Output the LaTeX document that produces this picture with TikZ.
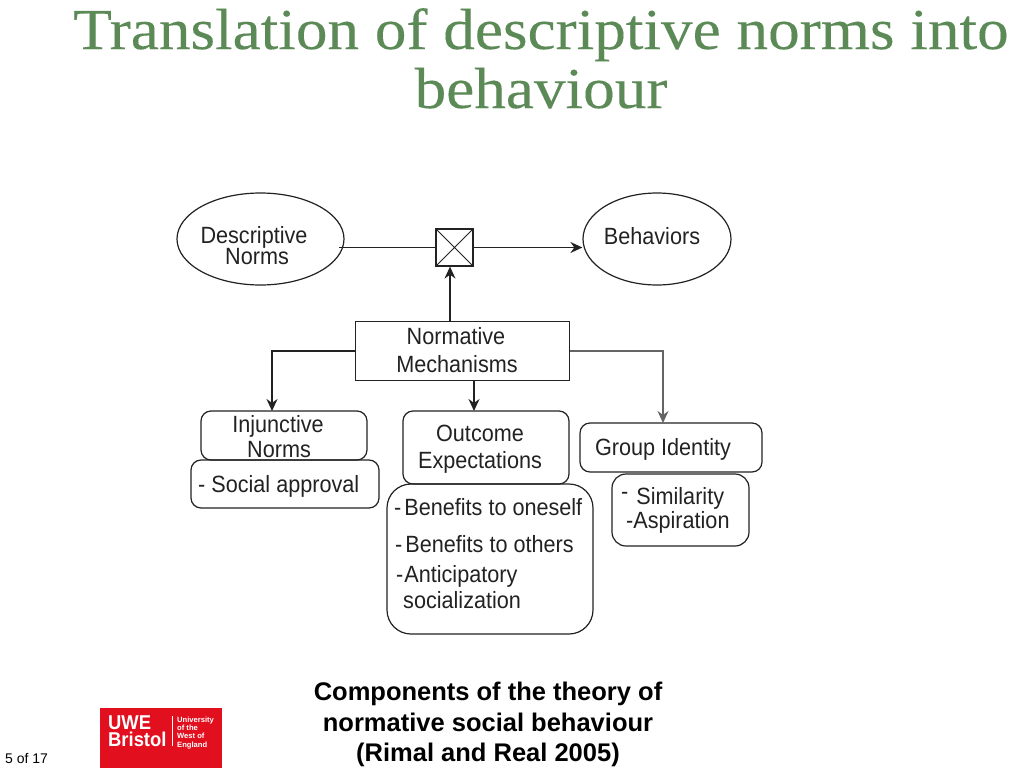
\documentclass[tikz,border=0pt]{standalone}
\usepackage{fontspec}
\setmainfont{Liberation Sans}
\newfontfamily\titlefont[FakeStretch=1.09,FakeBold=0.15]{Liberation Serif}
\newfontfamily\labfont[FakeStretch=0.92]{Liberation Sans}
\newfontfamily\logofont[FakeStretch=0.92]{Liberation Sans}
\definecolor{titlegreen}{HTML}{5B8A57}
\definecolor{uwered}{HTML}{E2101F}
\definecolor{inkc}{HTML}{222222}
\newcommand{\fsz}[1]{\fontsize{#1}{#1}\selectfont}
\usetikzlibrary{arrows.meta,shapes.geometric,shapes.misc}
\tikzset{
  x=1pt,y=-1pt,
  outl/.style={draw=inkc,line width=1.2pt},
  roundb/.style={outl,rounded corners=10pt},
  lab/.style={inner sep=0pt,text=inkc,font=\labfont\fsz{23.5},anchor=base},
  labl/.style={lab,anchor=base west},
  conn/.style={draw=inkc,line width=1.4pt,-{Stealth[length=12pt,width=11pt]}},
  plain/.style={draw=inkc,line width=1.4pt},
  ttl/.style={inner sep=0pt,text=titlegreen,font=\titlefont\fsz{58},anchor=base},
  captext/.style={inner sep=0pt,text=black,font=\bfseries\fsz{25.5},anchor=base},
  logot/.style={inner sep=0pt,text=white,anchor=base west,font=\logofont\bfseries\fsz{20}},
  logos/.style={inner sep=0pt,text=white,anchor=base west,font=\bfseries\fsz{7.6}},
}
\begin{document}
\begin{tikzpicture}
\useasboundingbox (0,0) rectangle (1024,768);
\fill[white] (0,0) rectangle (1024,768);
% title
\node[ttl] (t1) at (541,49) {Translation of descriptive norms into};
\node[ttl] (t2) at (541,108) {behaviour};
% ellipses
\node[ellipse,outl,minimum width=167pt,minimum height=92pt,inner sep=0pt] (desc) at (260.5,239) {};
\node[ellipse,outl,minimum width=148pt,minimum height=92pt,inner sep=0pt] (beh) at (657,239) {};
\node[lab] (desct1) at (254,243) {Descriptive};
\node[lab] (desct2) at (257,264) {Norms};
\node[lab] (behT) at (652,244) {Behaviors};
% cross box
\node[rectangle,cross out,draw=inkc,line width=0.8pt,minimum size=37pt,inner sep=0pt] (crossx) at (454.5,247.5) {};
\node[rectangle,draw=inkc,line width=1.2pt,minimum size=37pt,inner sep=0pt] (cross) at (454.5,247.5) {};
% normative
\node[rectangle,outl,minimum width=214pt,minimum height=59pt,inner sep=0pt] (norm) at (462.5,351) {};
\node[lab] (normt1) at (456,344) {Normative};
\node[lab] (normt2) at (457,372) {Mechanisms};
% rounded boxes
\draw[roundb] (201,411) rectangle (367,460);
\coordinate (injtop) at (272,411);
\node[lab] (injt1) at (278,432) {Injunctive};
\node[lab] (injt2) at (279,457) {Norms};
\draw[roundb] (191,460) rectangle (379,508);
\node[labl] (soc) at (198,492) {-\hspace{6pt}Social approval};
\draw[roundb] (403,411) rectangle (569,484);
\coordinate (outtop) at (474,411);
\node[lab] (outt1) at (480,441) {Outcome};
\node[lab] (outt2) at (480,468) {Expectations};
\draw[outl,rounded corners=24pt] (387,484) rectangle (593,634);
\node[labl] (b1) at (394,515) {-\hspace{3pt}Benefits to oneself};
\node[labl] (b2) at (395,552) {-\hspace{3pt}Benefits to others};
\node[labl] (b3) at (396,582) {-\hspace{1pt}Anticipatory};
\node[labl] (b4) at (403,608) {socialization};
\draw[roundb] (580,423) rectangle (762,472);
\coordinate (grptop) at (663,423);
\node[lab] (grp) at (663,455) {Group Identity};
\draw[outl,rounded corners=14pt] (612,474) rectangle (749,546);
\node[labl] (s1) at (621,504) {\raisebox{5pt}{-}\hspace{8pt}Similarity};
\node[labl] (s2) at (626,528) {-Aspiration};
% connectors
\coordinate (descexit) at (339,247.5);
\draw[plain] (descexit) -- (cross.west);
\draw[conn] (cross.east) -- (beh.west |- cross.east);
\draw[conn] (norm.north -| 450,0) -- (cross.south -| 450,0);
\draw[conn] (norm.west |- 0,351) -| (injtop);
\draw[conn] (norm.south -| outtop) -- (outtop);
\draw[conn,draw=inkc!70] (norm.east |- 0,351) -| (grptop);
% caption
\node[captext] (c1) at (488,700) {Components of the theory of};
\node[captext] (c2) at (488,731) {normative social behaviour};
\node[captext] (c3) at (488,761) {(Rimal and Real 2005)};
% logo
\node[rectangle,fill=uwered,minimum width=122pt,minimum height=60pt,inner sep=0pt] (logo) at (161,738) {};
\node[logot] (u1) at (108,729.5) {UWE};
\node[logot] (u2) at (108,746) {Bristol};
\draw[white,line width=0.4pt] (172,716) -- (172,746);
\node[logos] (u3) at (177,722) {University};
\node[logos] (u4) at (177,730) {of the};
\node[logos] (u5) at (177,738) {West of};
\node[logos] (u6) at (177,747) {England};
\node[inner sep=0pt,anchor=base west,font=\fsz{14},text=black] (pg) at (5,763) {5 of 17};
\end{tikzpicture}
\end{document}
